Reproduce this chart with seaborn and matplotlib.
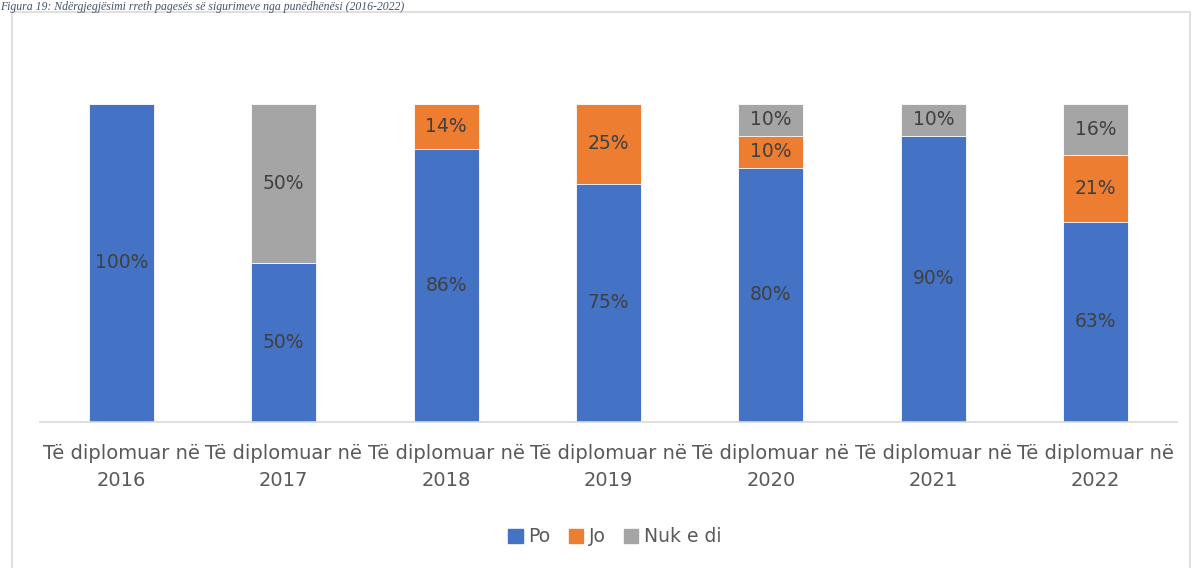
import matplotlib.pyplot as plt
import seaborn as sns
import pandas as pd
from matplotlib.patches import Rectangle

# te dhenat (perqindje)
vitet = ["2016", "2017", "2018", "2019", "2020", "2021", "2022"]
po = [100, 50, 86, 75, 80, 90, 63]
jo = [0, 0, 14, 25, 10, 0, 21]
nuk_e_di = [0, 50, 0, 0, 10, 10, 16]
seri = ["Po", "Jo", "Nuk e di"]
ngjyrat = ["#4472C4", "#ED7D31", "#A5A5A5"]
titulli = "Figura 19: Ndërgjegjësimi rreth pagesës së sigurimeve nga punëdhënësi (2016-2022)"

etiketat = ["Të diplomuar në\n" + v for v in vitet]
df = pd.DataFrame({"kat": etiketat, "Po": po, "Jo": jo, "Nuk e di": nuk_e_di})
df["po_jo"] = df["Po"] + df["Jo"]
df["total"] = df["po_jo"] + df["Nuk e di"]

sns.set_style("white")
plt.rcParams["font.family"] = ["DejaVu Sans"]

fig = plt.figure(figsize=(11.92, 5.68), dpi=100)
ax = fig.add_axes([40 / 1192, 146 / 568, 1137 / 1192, 318 / 568])

# shtresat: totali, pastaj Po+Jo, pastaj Po
for kol, c in zip(["total", "po_jo", "Po"], ngjyrat[::-1]):
    sns.barplot(data=df, x="kat", y=kol, color=c, width=0.4, ax=ax,
                edgecolor="white", linewidth=0.6, saturation=1)

# etiketat e vlerave
for i in range(len(vitet)):
    poshte = 0
    for s in seri:
        v = df[s][i]
        if v > 0:
            ax.text(i, poshte + v / 2, f"{v}%", ha="center", va="center",
                    fontsize=13.5, color="#404040")
        poshte += v

ax.set_ylim(0, 100)
ax.set_xlim(-0.5, 6.5)
ax.set_xlabel("")
ax.set_ylabel("")
ax.set_yticks([])
for sp in ["top", "left", "right"]:
    ax.spines[sp].set_visible(False)
ax.spines["bottom"].set_color("#D9D9D9")
ax.spines["bottom"].set_linewidth(1.2)
ax.tick_params(axis="x", length=0, labelsize=14, labelcolor="#595959", pad=16)
for t in ax.get_xticklabels():
    t.set_linespacing(1.55)

# legjenda
doreza = [Rectangle((0, 0), 1, 1, color=c) for c in ngjyrat]
fig.legend(doreza, seri, loc="center", bbox_to_anchor=(615 / 1192, 1 - 537 / 568),
           ncol=3, frameon=False, fontsize=13.5, handlelength=0.75, handleheight=0.75,
           handletextpad=0.3, columnspacing=1.0, labelcolor="#595959")

# korniza e grafikut
fig.patches.append(Rectangle((12 / 1192, -0.01), 1178 / 1192, 1 - 12 / 568 + 0.01,
                             transform=fig.transFigure, fill=False,
                             edgecolor="#D9D9D9", linewidth=1.2))

# titulli lart
fig.text(0.0, 1 - 1 / 568, titulli, ha="left", va="top", fontsize=8.5,
         fontstyle="italic", family=["Liberation Serif", "DejaVu Serif"], color="#44546A")

fig.savefig("out.png", dpi=100)
